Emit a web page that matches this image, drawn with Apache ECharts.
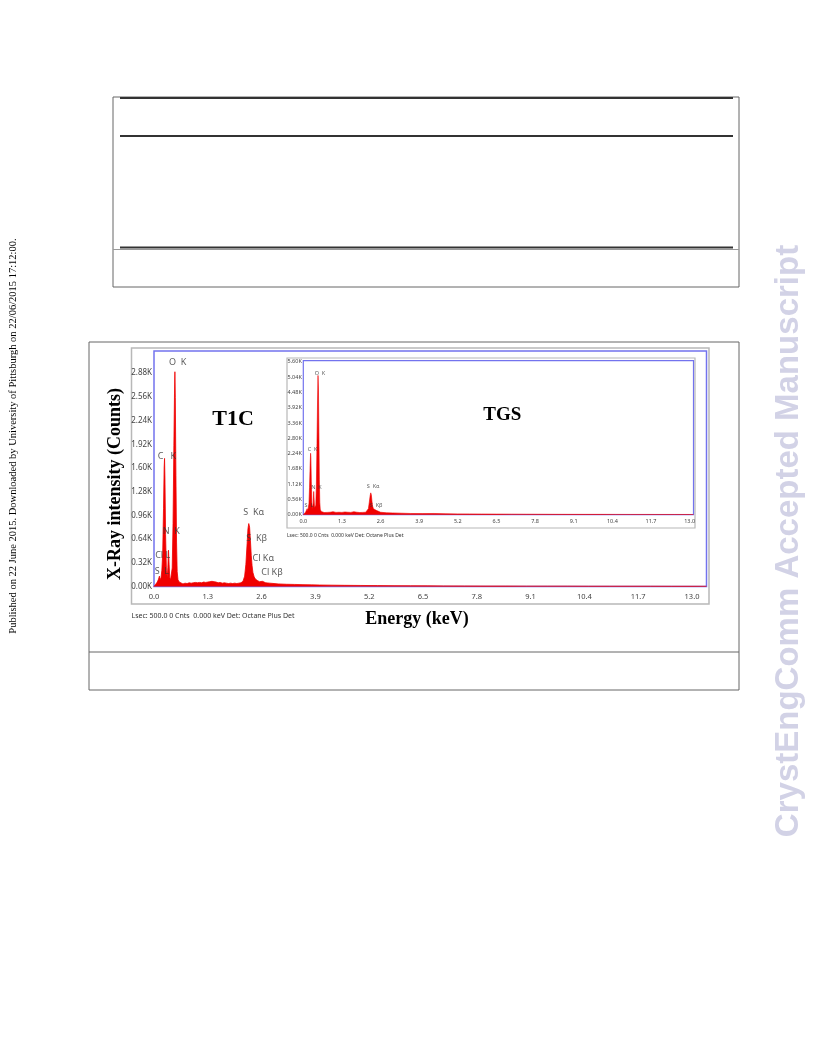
<!DOCTYPE html>
<html><head><meta charset="utf-8">
<script src="https://cdn.jsdelivr.net/npm/echarts@6/dist/echarts.min.js"></script>
<style>html,body{margin:0;padding:0;background:#fff}#c{width:816px;height:1056px}</style>
</head><body><div id="c"></div>
<script>
// ---- T1C spectrum (main) : energy in keV, counts in thousands ----
const mainEnergy = [0.00,0.04,0.08,0.11,0.13,0.15,0.17,0.19,0.21,0.23,0.245,0.255,0.265,0.28,0.30,0.32,0.335,0.35,0.365,0.38,0.40,0.42,0.44,0.46,0.48,0.495,0.505,0.515,0.53,0.545,0.56,0.58,0.61,0.65,0.70,0.75,0.80,0.85,0.90,0.95,1.00,1.05,1.10,1.15,1.20,1.25,1.30,1.35,1.40,1.45,1.50,1.55,1.60,1.65,1.70,1.75,1.80,1.85,1.90,1.95,2.00,2.05,2.10,2.15,2.19,2.22,2.25,2.27,2.29,2.31,2.33,2.35,2.37,2.39,2.42,2.45,2.50,2.55,2.62,2.70,2.80,2.90,3.00,3.20,3.40,3.60,3.80,4.00,4.30,4.60,5.00,5.40,5.80,6.20,6.60,7.00,7.50,8.00,8.50,9.00,9.50,10.0,10.5,11.0,11.5,12.0,12.5,13.0,13.35];
const mainCounts = [0.00,0.03,0.06,0.10,0.14,0.09,0.12,0.22,0.45,1.05,1.60,1.73,1.45,0.70,0.22,0.12,0.26,0.49,0.30,0.12,0.09,0.10,0.25,0.85,1.90,2.60,2.90,2.55,1.50,0.60,0.20,0.09,0.06,0.04,0.035,0.045,0.04,0.05,0.045,0.05,0.055,0.05,0.055,0.05,0.06,0.055,0.06,0.065,0.07,0.065,0.06,0.05,0.055,0.045,0.05,0.045,0.04,0.045,0.04,0.045,0.04,0.045,0.05,0.07,0.14,0.30,0.58,0.78,0.85,0.80,0.62,0.42,0.28,0.19,0.13,0.10,0.08,0.065,0.07,0.05,0.045,0.04,0.035,0.03,0.028,0.025,0.022,0.02,0.018,0.016,0.014,0.012,0.011,0.010,0.009,0.008,0.007,0.006,0.006,0.005,0.005,0.005,0.004,0.004,0.004,0.004,0.003,0.003,0.003];

// ---- TGS spectrum (inset) ----
const insetEnergy = [0.00,0.04,0.08,0.11,0.13,0.15,0.17,0.19,0.21,0.23,0.245,0.255,0.27,0.29,0.31,0.335,0.35,0.365,0.38,0.40,0.42,0.44,0.46,0.48,0.495,0.51,0.525,0.54,0.555,0.57,0.60,0.65,0.70,0.80,0.90,1.00,1.05,1.10,1.20,1.30,1.40,1.45,1.50,1.60,1.70,1.75,1.80,1.90,2.00,2.10,2.15,2.19,2.22,2.25,2.27,2.29,2.31,2.33,2.36,2.40,2.45,2.50,2.60,2.80,3.00,3.30,3.60,4.00,4.40,4.80,5.20,5.60,6.00,6.50,7.00,7.50,8.00,8.50,9.00,9.50,10.0,10.5,11.0,11.5,12.0,12.5,13.0,13.13];
const insetCounts = [0.00,0.05,0.10,0.16,0.22,0.14,0.18,0.40,1.00,1.80,2.25,2.10,1.20,0.40,0.22,0.45,0.85,0.55,0.25,0.20,0.35,1.10,2.60,4.20,5.10,4.60,3.00,1.30,0.45,0.20,0.12,0.09,0.08,0.085,0.09,0.11,0.09,0.085,0.09,0.085,0.10,0.13,0.09,0.085,0.11,0.12,0.09,0.08,0.085,0.09,0.12,0.22,0.45,0.70,0.80,0.72,0.50,0.32,0.22,0.18,0.16,0.12,0.09,0.07,0.065,0.055,0.045,0.04,0.045,0.035,0.03,0.028,0.025,0.022,0.02,0.018,0.016,0.014,0.013,0.012,0.012,0.011,0.010,0.010,0.009,0.009,0.008,0.008];

// ---- peak labels (anchor energy, anchor counts) ----
const mainPeakNames = ['O  K','C   K','N  K','Cl L','S  L','S  K\u03b1','S  K\u03b2','Cl K\u03b1','Cl K\u03b2'];
const mainPeakE     = [0.57, 0.31, 0.42, 0.21, 0.19, 2.41, 2.48, 2.64, 2.85];
const mainPeakC     = [3.03, 1.76, 0.75, 0.425, 0.21, 1.005, 0.654, 0.385, 0.196];
const insetPeakNames = ['O  K','C  K','N  K','S  L','S  K\u03b1','S  K\u03b2'];
const insetPeakE     = [0.56, 0.31, 0.44, 0.19, 2.35, 2.45];
const insetPeakC     = [5.18, 2.40, 1.01, 0.33, 1.02, 0.33];

// ---- axis ticks ----
const xTickStep = 1.3;       // 0.0 ... 13.0
const mainYTickStep = 0.32;  // 0.00K ... 2.88K
const insetYTickStep = 0.56; // 0.00K ... 5.60K

const onStep = (v, s) => Math.abs(v / s - Math.round(v / s)) < 1e-6;
const xFmt = v => onStep(v, xTickStep) ? v.toFixed(1) : '';
const yFmt = s => v => onStep(v, s) ? v.toFixed(2) + 'K' : '';

const pair = (a, b) => a.map((e, i) => [e, b[i]]);
const lab = (n, e, c) => n.map((t, i) => [e[i], c[i], t]);

const BLUE = '#7373ee';
const GREY = '#b8b8b8';
const LF = 'Noto Sans';

const chart = echarts.init(document.getElementById('c'), null, {renderer: 'canvas'});
chart.setOption({
  animation: false,
  backgroundColor: '#fff',
  grid: [
    {left: 154, top: 351, width: 552.5, height: 235.5, show: true, borderColor: BLUE, borderWidth: 1.5, backgroundColor: 'transparent', z: 1},
    {left: 303.3, top: 360.7, width: 390.2, height: 154, show: true, borderColor: BLUE, borderWidth: 1.2, backgroundColor: '#fff', z: 5}
  ],
  xAxis: [
    {gridIndex: 0, type: 'value', min: 0, max: 13.35, interval: xTickStep,
     axisLine: {show: false}, axisTick: {show: false}, splitLine: {show: false},
     axisLabel: {fontSize: 7.5, color: '#444', margin: 6, fontFamily: LF, formatter: xFmt}},
    {gridIndex: 1, type: 'value', min: 0, max: 13.13, interval: xTickStep, z: 5,
     axisLine: {show: false}, axisTick: {show: false}, splitLine: {show: false},
     axisLabel: {fontSize: 5.5, color: '#444', margin: 4, fontFamily: LF, formatter: xFmt}}
  ],
  yAxis: [
    {gridIndex: 0, type: 'value', min: 0, max: 3.18, interval: mainYTickStep,
     axisLine: {show: false}, axisTick: {show: false}, splitLine: {show: false},
     axisLabel: {fontSize: 8, color: '#444', margin: 2, fontFamily: LF, formatter: yFmt(mainYTickStep)}},
    {gridIndex: 1, type: 'value', min: 0, max: 5.64, interval: insetYTickStep, z: 5,
     axisLine: {show: false}, axisTick: {show: false}, splitLine: {show: false},
     axisLabel: {fontSize: 5.5, color: '#444', margin: 1.5, fontFamily: LF, formatter: yFmt(insetYTickStep)}}
  ],
  series: [
    {type: 'line', xAxisIndex: 0, yAxisIndex: 0, data: pair(mainEnergy, mainCounts), symbol: 'none', silent: true,
     lineStyle: {color: '#f00000', width: 0.8}, areaStyle: {color: '#f00000', opacity: 1}, z: 2},
    {type: 'scatter', xAxisIndex: 0, yAxisIndex: 0, data: lab(mainPeakNames, mainPeakE, mainPeakC), symbolSize: 1, silent: true,
     itemStyle: {color: 'rgba(0,0,0,0)'}, z: 3,
     label: {show: true, position: 'inside', formatter: p => p.data[2], fontSize: 9, color: '#333', fontFamily: LF}},
    {type: 'line', xAxisIndex: 1, yAxisIndex: 1, data: pair(insetEnergy, insetCounts), symbol: 'none', silent: true,
     lineStyle: {color: '#f00000', width: 0.6}, areaStyle: {color: '#f00000', opacity: 1}, z: 6},
    {type: 'scatter', xAxisIndex: 1, yAxisIndex: 1, data: lab(insetPeakNames, insetPeakE, insetPeakC), symbolSize: 1, silent: true,
     itemStyle: {color: 'rgba(0,0,0,0)'}, z: 7,
     label: {show: true, position: 'inside', formatter: p => p.data[2], fontSize: 5.5, color: '#333', fontFamily: LF}}
  ],
  graphic: [
    // table outline
    {type: 'rect', z: 0, shape: {x: 113, y: 97, width: 626, height: 190}, style: {fill: 'none', stroke: '#666', lineWidth: 1}},
    {type: 'line', z: 1, shape: {x1: 120, y1: 98, x2: 733, y2: 98}, style: {stroke: '#333', lineWidth: 2}},
    {type: 'line', z: 1, shape: {x1: 120, y1: 136, x2: 733, y2: 136}, style: {stroke: '#333', lineWidth: 2}},
    {type: 'line', z: 1, shape: {x1: 120, y1: 247.5, x2: 733, y2: 247.5}, style: {stroke: '#333', lineWidth: 2}},
    {type: 'line', z: 1, shape: {x1: 113, y1: 249.5, x2: 739, y2: 249.5}, style: {stroke: '#999', lineWidth: 1}},
    // figure outline
    {type: 'rect', z: 0, shape: {x: 89, y: 342, width: 650, height: 348}, style: {fill: 'none', stroke: '#666', lineWidth: 1}},
    {type: 'line', z: 0, shape: {x1: 89, y1: 652, x2: 739, y2: 652}, style: {stroke: '#666', lineWidth: 1}},
    // main chart frame
    {type: 'rect', z: 0, shape: {x: 131.5, y: 348, width: 577.5, height: 256}, style: {fill: 'none', stroke: GREY, lineWidth: 1.5}},
    // inset frame
    {type: 'rect', z: 4, shape: {x: 287, y: 358, width: 408, height: 170}, style: {fill: '#fff', stroke: GREY, lineWidth: 1.2}},
    // titles and notes
    {type: 'text', z: 3, x: 233, y: 419.5, style: {text: 'T1C', font: 'bold 22px "Liberation Serif"', fill: '#000', align: 'center', verticalAlign: 'middle'}},
    {type: 'text', z: 8, x: 502.3, y: 415.5, style: {text: 'TGS', font: 'bold 19px "Liberation Serif"', fill: '#000', align: 'center', verticalAlign: 'middle'}},
    {type: 'text', z: 3, x: 115, y: 484, rotation: Math.PI / 2, style: {text: 'X-Ray intensity (Counts)', font: 'bold 18px "Liberation Serif"', fill: '#000', align: 'center', verticalAlign: 'middle'}},
    {type: 'text', z: 3, x: 417, y: 619, style: {text: 'Energy (keV)', font: 'bold 18px "Liberation Serif"', fill: '#000', align: 'center', verticalAlign: 'middle'}},
    {type: 'text', z: 3, x: 131.5, y: 616, style: {text: 'Lsec: 500.0 0 Cnts  0.000 keV Det: Octane Plus Det', font: '7px "Noto Sans"', fill: '#333', align: 'left', verticalAlign: 'middle'}},
    {type: 'text', z: 8, x: 287, y: 536, style: {text: 'Lsec: 500.0 0 Cnts  0.000 keV Det: Octane Plus Det', font: '5px "Noto Sans"', fill: '#333', align: 'left', verticalAlign: 'middle'}},
    // margin texts
    {type: 'text', z: 3, x: 13, y: 436, rotation: Math.PI / 2, style: {text: 'Published on 22 June 2015. Downloaded by University of Pittsburgh on 22/06/2015 17:12:00.', font: '10.5px "Liberation Serif"', fill: '#000', align: 'center', verticalAlign: 'middle'}},
    {type: 'text', z: 3, x: 789, y: 541, rotation: Math.PI / 2, style: {text: 'CrystEngComm Accepted Manuscript', font: 'bold 33px "Liberation Sans"', fill: '#d2d2e6', align: 'center', verticalAlign: 'middle'}}
  ]
});
</script></body></html>
